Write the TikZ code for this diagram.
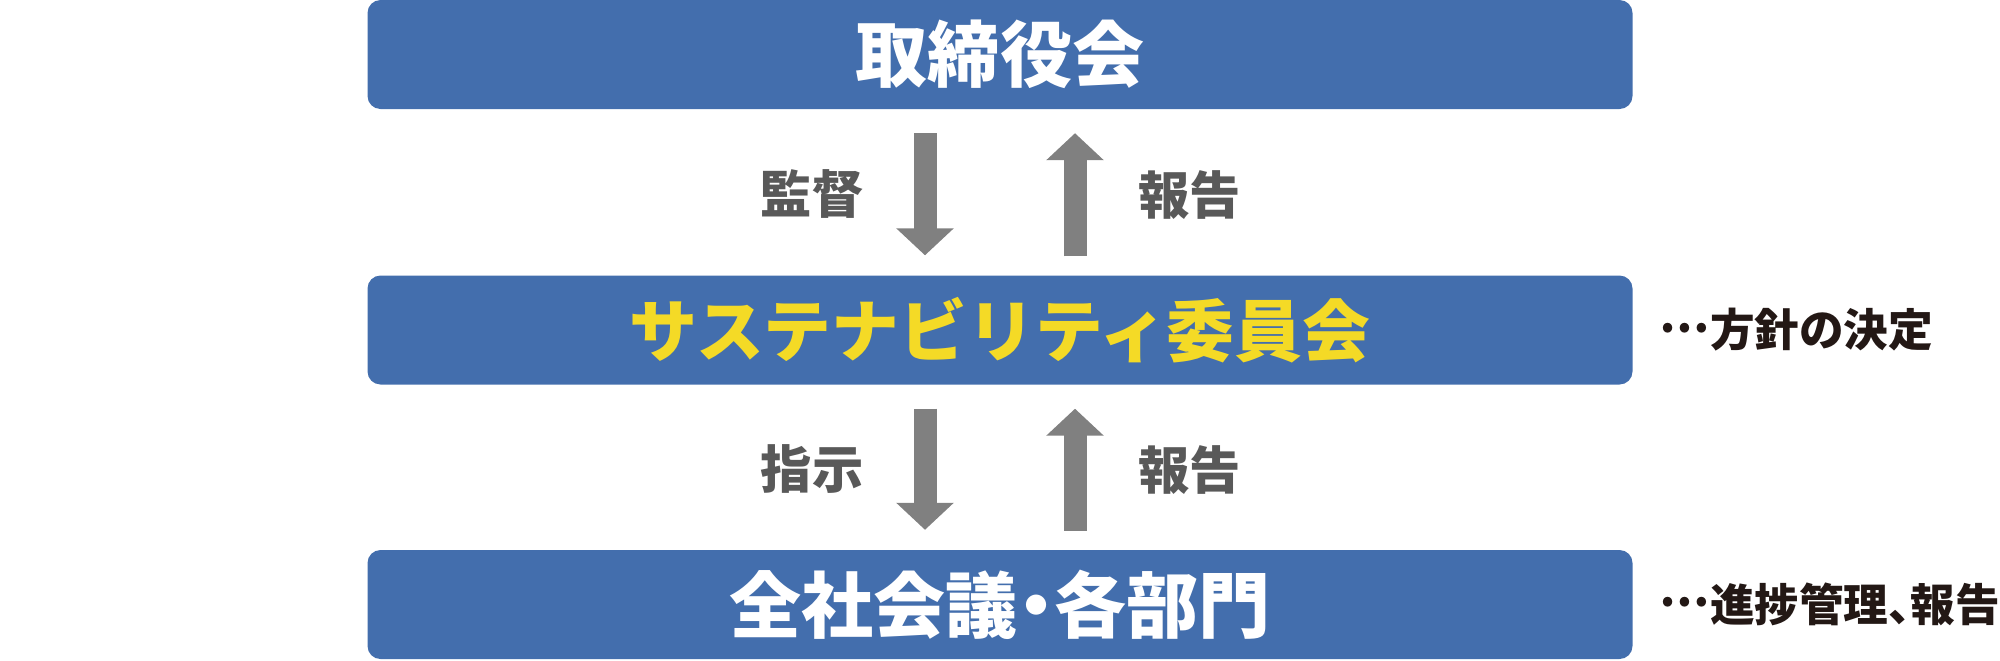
\documentclass[tikz,border=0pt]{standalone}
\usepackage{fontspec}
\setmainfont{Noto Sans CJK JP}
\usetikzlibrary{arrows.meta,positioning}
\definecolor{boxblue}{RGB}{67,110,173}
\definecolor{ttlyellow}{RGB}{244,218,38}
\definecolor{arrowgray}{RGB}{128,128,128}
\definecolor{lblgray}{RGB}{89,89,89}
\definecolor{notegray}{RGB}{35,24,21}
% proportional punctuation and centred dots
\newcommand{\prop}[1]{{\addfontfeatures{RawFeature=+palt}#1}}
\newcommand{\leaddots}{\raisebox{0.33em}{…}}
\tikzset{
    panel/.style={fill=boxblue, rounded corners=1.3mm, minimum width=12.65cm,
        minimum height=1.09cm, inner sep=0, text=white,
        font=\bfseries\fontsize{20.5}{21}\selectfont},
    flow/.style={draw=arrowgray, line width=2.3mm,
        -{Triangle[width=5.6mm,length=2.7mm]}},
    flowlabel/.style={text=lblgray, inner sep=0,
        font=\bfseries\fontsize{14.6}{16}\selectfont},
    note/.style={text=notegray, inner sep=0,
        font=\bfseries\fontsize{12.7}{14}\selectfont},
}

\begin{document}
\begin{tikzpicture}
\useasboundingbox (0,0) rectangle (20,6.6);

\node[panel] (board) at (10,6.055) {取締役会};
\node[panel, text=ttlyellow, font=\bfseries\fontsize{19.3}{20}\selectfont] (committee) at (10,3.30) {サステナビリティ委員会};
\node[panel] (depts) at (10,0.555) {全社会議\prop{・}各部門};

\draw[flow] ([xshift=-7.5mm,yshift=-2.35mm]board.south) -- ([xshift=-7.5mm,yshift=1.95mm]committee.north)
    node[midway, left=5mm, flowlabel] (supervise) {監督};
\draw[flow] ([xshift=7.5mm,yshift=1.85mm]committee.north) -- ([xshift=7.5mm,yshift=-2.35mm]board.south)
    node[midway, right=5.2mm, flowlabel] (report1) {報告};

\draw[flow] ([xshift=-7.5mm,yshift=-2.35mm]committee.south) -- ([xshift=-7.5mm,yshift=1.95mm]depts.north)
    node[midway, left=5mm, flowlabel] (instruct) {指示};
\draw[flow] ([xshift=7.5mm,yshift=1.85mm]depts.north) -- ([xshift=7.5mm,yshift=-2.35mm]committee.south)
    node[midway, right=5.2mm, flowlabel] (report2) {報告};

\node[note, right=2.6mm of committee.east] (policy) {\leaddots 方針の決定};
\node[note, right=2.6mm of depts.east] (progress) {\leaddots 進捗管理\prop{、}報告};
\end{tikzpicture}
\end{document}
